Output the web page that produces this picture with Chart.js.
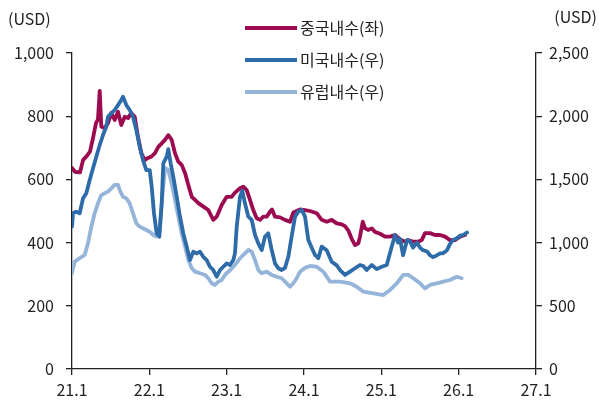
<!DOCTYPE html>
<html>
<head>
<meta charset="utf-8">
<script src="https://cdn.jsdelivr.net/npm/chart.js@4"></script>
<style>
  html, body { margin: 0; padding: 0; background: #fff; }
  #chart { display: block; }
</style>
</head>
<body>
<canvas id="chart" width="599" height="405"></canvas>
<script>
// 내수 운임 추이: x = months since 2021.1
const xTickLabels = ['21.1', '22.1', '23.1', '24.1', '25.1', '26.1', '27.1'];
const seriesLabels = ['중국내수(좌)', '미국내수(우)', '유럽내수(우)'];

const chinaMonths = [0, 0.47, 1.24, 1.71, 2.33, 2.79, 3.26, 3.72, 4.03, 4.3, 4.55, 5.07, 5.59, 6.1, 6.63, 7.14, 7.65, 8.18, 8.69, 9.2, 9.73, 10.24, 10.75, 11.28, 11.79, 12.31, 12.88, 13.39, 13.92, 14.43, 14.94, 15.47, 15.98, 16.5, 17.02, 17.54, 18.05, 18.58, 19.09, 19.6, 20.38, 21.15, 21.93, 22.45, 23.23, 24.01, 24.78, 25.29, 26.07, 26.58, 27.11, 27.62, 28.13, 28.66, 29.17, 29.69, 30.21, 30.73, 31.04, 31.5, 32.28, 33.05, 33.83, 34.34, 35.38, 36.16, 36.93, 37.97, 38.75, 39.52, 40.3, 41.08, 41.85, 42.36, 42.88, 43.4, 43.92, 44.43, 44.69, 45.11, 45.47, 45.98, 46.51, 47.02, 47.8, 48.57, 49.35, 50.12, 50.9, 51.68, 52.14, 52.92, 53.69, 54.27, 54.78, 55.55, 56.33, 57.11, 57.88, 58.66, 59.43, 60.21, 60.99];
const chinaValues = [636, 624, 622, 661, 675, 688, 731, 778, 790, 880, 767, 762, 778, 810, 788, 814, 772, 798, 794, 810, 798, 735, 683, 661, 668, 672, 683, 703, 714, 725, 740, 725, 683, 656, 646, 620, 582, 545, 535, 525, 514, 503, 472, 482, 519, 545, 545, 558, 572, 577, 566, 535, 503, 477, 472, 482, 482, 498, 505, 482, 480, 472, 466, 495, 505, 503, 500, 493, 472, 466, 472, 461, 458, 452, 438, 412, 392, 398, 419, 466, 445, 440, 445, 434, 428, 419, 419, 424, 410, 403, 408, 403, 403, 408, 430, 430, 424, 424, 419, 408, 408, 419, 424];

const usMonths = [0, 0.16, 0.62, 1.19, 1.71, 2.22, 2.75, 3.26, 3.77, 4.3, 4.81, 5.32, 5.59, 6.1, 6.63, 7.14, 7.65, 7.91, 8.43, 8.95, 9.47, 9.98, 10.51, 11.02, 11.53, 12.06, 12.37, 12.72, 13.14, 13.55, 13.92, 14.17, 14.7, 14.94, 15.31, 15.72, 16.25, 16.76, 17.27, 17.8, 18.31, 18.82, 19.35, 19.86, 20.37, 20.9, 21.41, 21.93, 22.45, 22.97, 23.48, 24.01, 24.52, 25.03, 25.29, 25.56, 26.07, 26.43, 26.84, 27.36, 27.89, 28.4, 28.91, 29.44, 29.95, 30.46, 30.99, 31.5, 32.01, 32.54, 33.05, 33.57, 34.09, 34.61, 35.12, 35.65, 36.16, 36.67, 37.2, 37.71, 38.22, 38.75, 39.52, 40.3, 41.08, 41.59, 42.36, 43.14, 43.92, 44.69, 45.2, 45.73, 46.51, 47.28, 48.06, 48.84, 49.61, 50.12, 50.59, 50.9, 51.37, 52.0, 52.45, 52.92, 53.54, 54.0, 54.47, 55.09, 55.55, 56.02, 56.64, 57.11, 57.57, 58.19, 58.66, 59.12, 59.74, 60.21, 60.68, 61.3];
const usValues = [1126, 1232, 1245, 1232, 1350, 1390, 1495, 1588, 1680, 1772, 1851, 1917, 1996, 2022, 2049, 2088, 2128, 2154, 2088, 2049, 1996, 1891, 1759, 1653, 1574, 1574, 1442, 1232, 1073, 1047, 1311, 1627, 1680, 1740, 1627, 1521, 1363, 1205, 1073, 968, 862, 928, 915, 928, 888, 862, 809, 783, 730, 783, 809, 836, 823, 862, 915, 1126, 1363, 1410, 1311, 1205, 1179, 1060, 994, 941, 1047, 1073, 941, 836, 797, 783, 800, 888, 1050, 1205, 1245, 1258, 1205, 1020, 960, 902, 876, 968, 940, 849, 820, 783, 744, 770, 797, 823, 815, 783, 823, 790, 809, 823, 968, 1060, 1000, 1030, 900, 1020, 1010, 960, 1000, 960, 940, 930, 900, 885, 900, 915, 915, 940, 990, 1020, 1035, 1055, 1060, 1080];

const euMonths = [0, 0.42, 1.19, 1.97, 2.48, 3.0, 3.52, 4.03, 4.55, 5.07, 5.59, 6.1, 6.63, 7.14, 7.4, 7.91, 8.43, 8.95, 9.47, 9.98, 10.51, 11.02, 11.53, 12.06, 12.62, 13.14, 13.55, 13.92, 14.43, 14.94, 15.47, 15.98, 16.5, 17.02, 17.54, 18.05, 18.58, 19.09, 19.86, 20.64, 21.15, 21.68, 22.19, 22.7, 23.23, 23.74, 24.52, 25.29, 26.07, 26.84, 27.36, 27.89, 28.4, 28.91, 29.44, 30.21, 30.99, 31.77, 32.54, 33.32, 33.83, 34.34, 34.86, 35.38, 36.16, 36.93, 37.97, 39.0, 40.04, 41.59, 43.14, 44.18, 45.2, 46.76, 48.31, 49.35, 50.39, 51.41, 52.19, 52.97, 54.0, 54.78, 55.55, 56.59, 57.62, 58.66, 59.7, 60.47];
const euValues = [757, 849, 876, 902, 994, 1126, 1232, 1311, 1376, 1390, 1403, 1429, 1456, 1456, 1416, 1363, 1350, 1311, 1232, 1152, 1126, 1113, 1100, 1086, 1060, 1047, 1073, 1311, 1590, 1575, 1469, 1337, 1205, 1073, 968, 862, 797, 770, 757, 744, 718, 678, 665, 691, 704, 744, 783, 823, 876, 915, 941, 928, 862, 783, 757, 770, 744, 730, 718, 678, 651, 678, 718, 770, 800, 815, 809, 770, 691, 691, 678, 651, 612, 599, 585, 625, 678, 744, 744, 718, 678, 638, 665, 678, 691, 704, 730, 718];

const colors = ['#9c0b4f', '#2d6ca8', '#95b4da'];
const FONT = "'Noto Sans CJK KR', 'Noto Sans', sans-serif";

function zip(xs, ys) {
  return xs.map((x, i) => ({ x, y: ys[i] }));
}

// legend + unit labels drawn by hand (legend sits inside the plot)
const overlayPlugin = {
  id: 'overlay',
  afterDraw(chart) {
    const ctx = chart.ctx;
    ctx.save();
    ctx.fillStyle = '#222';
    ctx.font = '16px ' + FONT;
    ctx.textBaseline = 'middle';
    ctx.textAlign = 'left';
    ctx.fillText('(USD)', 8, 19);
    ctx.textAlign = 'right';
    ctx.fillText('(USD)', 597, 17);

    const rows = [28, 60, 92];
    ctx.textAlign = 'left';
    seriesLabels.forEach((label, i) => {
      ctx.strokeStyle = colors[i];
      ctx.lineWidth = 4;
      ctx.beginPath();
      ctx.moveTo(245, rows[i]);
      ctx.lineTo(297, rows[i]);
      ctx.stroke();
      ctx.fillStyle = '#222';
      ctx.fillText(label, 300, rows[i]);
    });
    ctx.restore();
  }
};

const axisGrid = { drawOnChartArea: false, drawTicks: true, tickLength: 6, color: '#222', lineWidth: 1.3 };
const axisBorder = { display: true, color: '#222', width: 1.3 };
const tickFont = { family: FONT, size: 16 };

new Chart(document.getElementById('chart'), {
  type: 'line',
  data: {
    datasets: [
      { label: seriesLabels[0], data: zip(chinaMonths, chinaValues), yAxisID: 'yL', borderColor: colors[0], order: 1 },
      { label: seriesLabels[1], data: zip(usMonths, usValues), yAxisID: 'yR', borderColor: colors[1], order: 0 },
      { label: seriesLabels[2], data: zip(euMonths, euValues), yAxisID: 'yR', borderColor: colors[2], order: 2 }
    ]
  },
  options: {
    responsive: false,
    animation: false,
    parsing: false,
    layout: { padding: { top: 53, left: 0, right: 0, bottom: 0 } },
    elements: {
      line: { borderWidth: 3.8, tension: 0, borderJoinStyle: 'round', borderCapStyle: 'round', fill: false },
      point: { radius: 0 }
    },
    plugins: { legend: { display: false }, tooltip: { enabled: false } },
    scales: {
      x: {
        type: 'linear', min: 0, max: 72,
        afterBuildTicks: s => { s.ticks = xTickLabels.map((_, i) => ({ value: i * 12 })); },
        ticks: { callback: v => xTickLabels[Math.round(v / 12)], color: '#222', font: tickFont, maxRotation: 0, autoSkip: false, padding: 5 },
        grid: axisGrid, border: axisBorder,
        afterFit: s => { s.height = 36; }
      },
      yL: {
        position: 'left', min: 0, max: 1000,
        ticks: { stepSize: 200, callback: v => v.toLocaleString('en-US'), color: '#222', font: tickFont, padding: 12 },
        grid: axisGrid, border: axisBorder,
        afterFit: s => { s.width = 72; }
      },
      yR: {
        position: 'right', min: 0, max: 2500,
        ticks: { stepSize: 500, callback: v => v.toLocaleString('en-US'), color: '#222', font: tickFont, padding: 7 },
        grid: axisGrid, border: axisBorder,
        afterFit: s => { s.width = 63; }
      }
    }
  },
  plugins: [overlayPlugin]
});
</script>
</body>
</html>
